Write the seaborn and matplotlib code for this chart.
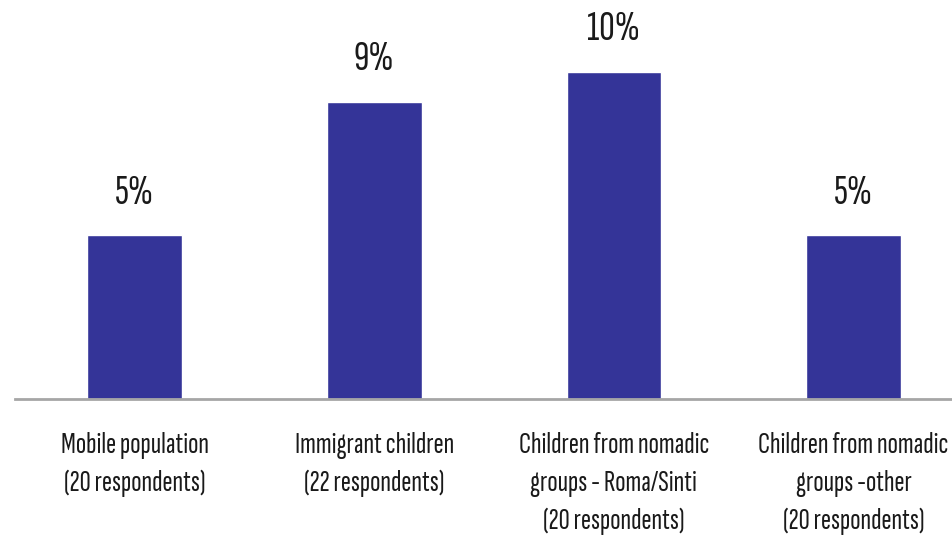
import matplotlib
matplotlib.use("Agg")
import matplotlib.pyplot as plt
import seaborn as sns
import pandas as pd

categories = [
    "Mobile population\n(20 respondents)",
    "Immigrant children\n(22 respondents)",
    "Children from nomadic\ngroups - Roma/Sinti\n(20 respondents)",
    "Children from nomadic\ngroups -other\n(20 respondents)",
]
values = [5.0, 9.09, 10.0, 5.0]
value_labels = ["5%", "9%", "10%", "5%"]

sns.set_style("white")
plt.rcParams["font.family"] = ["Sofia Sans Extra Condensed", "DejaVu Sans"]

df = pd.DataFrame({"cat": categories, "val": values})

fig = plt.figure(figsize=(9.53, 5.48), dpi=100)
ax = fig.add_axes([15 / 953, (548 - 399) / 548, 938 / 953, 399 / 548])
sns.barplot(data=df, x="cat", y="val", color="#343498", saturation=1,
            width=0.395, ax=ax)

ax.set_xlim(-0.499, 3.415)
ax.set_ylim(0, 12.2)
for s in ["top", "left", "right"]:
    ax.spines[s].set_visible(False)
ax.spines["bottom"].set_color("#a6a6a6")
ax.spines["bottom"].set_linewidth(2)
ax.set_yticks([])
ax.set_xlabel("")
ax.set_ylabel("")
ax.tick_params(axis="x", length=0, pad=24, labelsize=22, labelcolor="#1a1a1a")
for t in ax.get_xticklabels():
    t.set_linespacing(1.5)

ax.bar_label(ax.containers[0], labels=value_labels, padding=17,
             fontsize=31, color="#1a1a1a")

fig.savefig("out.png", dpi=100)
